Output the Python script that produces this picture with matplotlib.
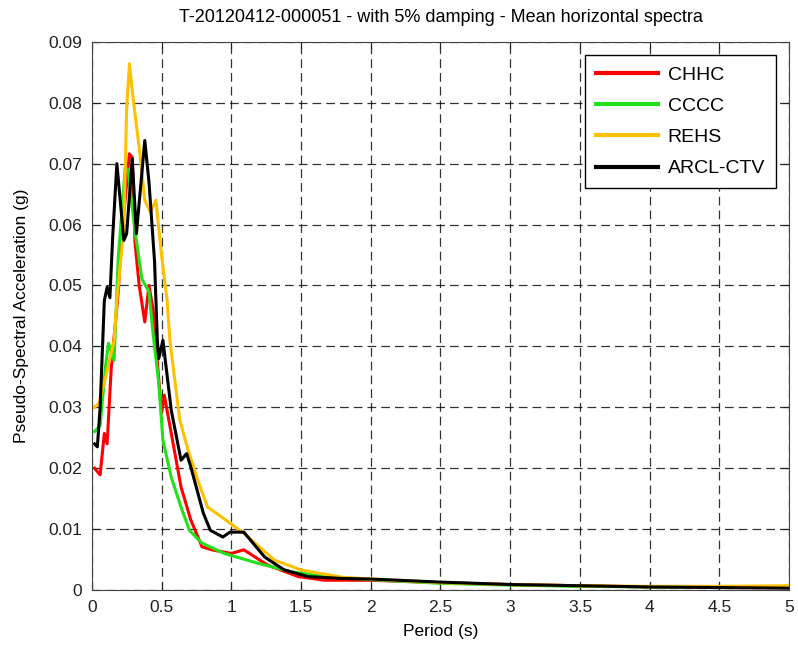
import numpy as np
import matplotlib
matplotlib.use('Agg')
import matplotlib.pyplot as plt

plt.rcParams['font.family'] = ['Liberation Sans', 'DejaVu Sans']

# Period (s) / pseudo-spectral acceleration (g)
chhc_t = [0.02, 0.06, 0.09, 0.11, 0.14, 0.19, 0.21, 0.27, 0.29, 0.31, 0.34, 0.38, 0.41, 0.44,
          0.50, 0.52, 0.57, 0.64, 0.71, 0.79, 0.86, 1.00, 1.09, 1.26, 1.48, 1.67, 2.0, 2.5,
          3.0, 3.5, 4.0, 4.5, 5.0]
chhc_a = [0.020, 0.0189, 0.0257, 0.024, 0.0366, 0.049, 0.057, 0.0716, 0.071, 0.057, 0.050, 0.044,
          0.050, 0.046, 0.029, 0.032, 0.0257, 0.0169, 0.0115, 0.0071, 0.0066, 0.0060, 0.0066,
          0.0041, 0.0022, 0.0016, 0.0016, 0.0012, 0.0009, 0.0007, 0.0005, 0.0005, 0.0004]

cccc_t = [0.02, 0.06, 0.10, 0.12, 0.16, 0.19, 0.24, 0.26, 0.31, 0.36, 0.41, 0.44, 0.48, 0.51,
          0.57, 0.64, 0.70, 0.79, 0.95, 1.19, 1.43, 1.67, 2.0, 2.5, 3.0, 3.5, 4.0, 4.5, 5.0]
cccc_a = [0.026, 0.027, 0.037, 0.0405, 0.0377, 0.0546, 0.0693, 0.069, 0.059, 0.051, 0.049, 0.042,
          0.034, 0.0246, 0.0185, 0.0136, 0.0098, 0.0077, 0.0060, 0.0044, 0.0030, 0.0022, 0.0017,
          0.0011, 0.0008, 0.0006, 0.0005, 0.0005, 0.0006]

rehs_t = [0.02, 0.05, 0.10, 0.14, 0.16, 0.18, 0.23, 0.25, 0.27, 0.30, 0.34, 0.38, 0.42, 0.46,
          0.50, 0.54, 0.56, 0.63, 0.69, 0.76, 0.83, 0.93, 1.09, 1.31, 1.50, 1.79, 2.0, 2.5,
          3.0, 3.5, 4.0, 4.5, 5.0]
rehs_a = [0.030, 0.0306, 0.035, 0.039, 0.041, 0.0475, 0.0595, 0.079, 0.0864, 0.080, 0.0726, 0.064,
          0.062, 0.064, 0.055, 0.0475, 0.041, 0.028, 0.023, 0.018, 0.0136, 0.012, 0.0093,
          0.0049, 0.0033, 0.0021, 0.0018, 0.0012, 0.0009, 0.0007, 0.0006, 0.0006, 0.0007]

arcl_t = [0.02, 0.04, 0.06, 0.09, 0.11, 0.13, 0.15, 0.18, 0.23, 0.25, 0.29, 0.32, 0.38, 0.41,
          0.45, 0.47, 0.48, 0.51, 0.57, 0.64, 0.68, 0.71, 0.80, 0.85, 0.94, 0.99, 1.09, 1.24,
          1.38, 1.55, 1.79, 2.0, 2.5, 3.0, 3.5, 4.0, 4.5, 5.0]
arcl_a = [0.024, 0.0235, 0.030, 0.0475, 0.0497, 0.048, 0.058, 0.070, 0.0574, 0.0585, 0.0708,
          0.0585, 0.0738, 0.067, 0.054, 0.041, 0.038, 0.041, 0.0295, 0.0213, 0.0224, 0.0202,
          0.0126, 0.0098, 0.0087, 0.0095, 0.0095, 0.0054, 0.0033, 0.0022, 0.0019, 0.0018,
          0.0013, 0.0009, 0.0007, 0.0005, 0.0004, 0.0003]

fig = plt.figure(figsize=(7.98, 6.48), dpi=100)
ax = fig.add_axes([0.115, 0.0895, 0.874, 0.846])

ax.plot(chhc_t, chhc_a, color='#ff0000', lw=2.2, label='CHHC')
ax.plot(cccc_t, cccc_a, color='#22e01a', lw=2.2, label='CCCC')
ax.plot(rehs_t, rehs_a, color='#ffc000', lw=2.2, label='REHS')
ax.plot(arcl_t, arcl_a, color='black', lw=2.2, label='ARCL-CTV')

ax.set_xlim(0, 5)
ax.set_ylim(0, 0.09)
ax.set_xticks(np.arange(0, 5.01, 0.5))
ax.set_xticklabels(['0', '0.5', '1', '1.5', '2', '2.5', '3', '3.5', '4', '4.5', '5'])
ax.set_yticks(np.arange(0, 0.0901, 0.01))
ax.set_yticklabels(['0', '0.01', '0.02', '0.03', '0.04', '0.05', '0.06', '0.07', '0.08', '0.09'])
ax.grid(True, color='black', linestyle=(0, (7, 4)), linewidth=0.9, alpha=0.8)
ax.tick_params(direction='in', top=True, right=True, labelsize=12.5, length=5,
               pad=7, colors='#222222')
for s in ax.spines.values():
    s.set_color('#444444')

ax.set_xlabel('Period (s)', fontsize=12.5, labelpad=7)
ax.set_ylabel('Pseudo-Spectral Acceleration (g)', fontsize=12.5, labelpad=14)
ax.set_title('T-20120412-000051 - with 5% damping - Mean horizontal spectra', fontsize=13, pad=14)

leg = ax.legend(loc='upper right', fontsize=14, fancybox=False, framealpha=1,
                edgecolor='black', handlelength=3.2, handletextpad=0.5, borderpad=0.55,
                labelspacing=0.7, borderaxespad=0.7)
leg.get_frame().set_linewidth(1.0)
for h in leg.get_lines():
    h.set_linewidth(3)

fig.savefig('out.png', dpi=100)
